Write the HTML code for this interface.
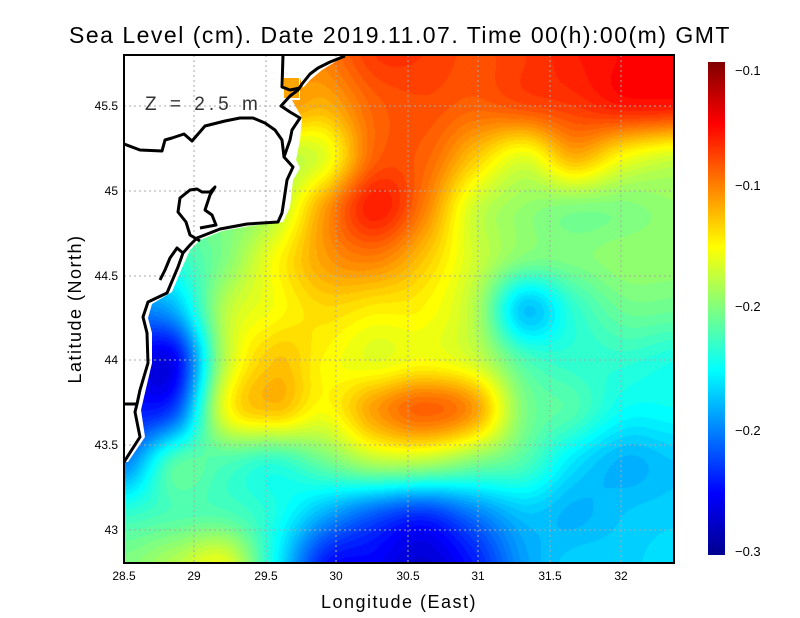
<!DOCTYPE html>
<html><head><meta charset="utf-8"><style>
body{margin:0;background:#fff;width:800px;height:618px;position:relative;overflow:hidden;font-family:"Liberation Sans",sans-serif}
canvas{position:absolute;left:124px;top:55px}
svg{position:absolute;left:0;top:0}
</style></head><body>
<canvas id="c" width="551" height="508"></canvas>
<svg width="800" height="618" viewBox="0 0 800 618">
<defs><linearGradient id="jet" x1="0" y1="1" x2="0" y2="0">
<stop offset="0" stop-color="#00008f"/><stop offset="0.125" stop-color="#0000ff"/><stop offset="0.375" stop-color="#00ffff"/><stop offset="0.625" stop-color="#ffff00"/><stop offset="0.875" stop-color="#ff0000"/><stop offset="1" stop-color="#800000"/></linearGradient></defs>
<path d="M124,55 L283,55 L283,78 L300,78 L300,100 L292,100 L302,118 L300,140 L296,160 L300,168 L293,180 L290,207 L283,222 L250,226 L222,231 L200,240 L190,250 L182,268 L172,292 L152,304 L148,318 L152,333 L152,363 L144,397 L141,410 L145,437 L128,462 L124,462 Z" fill="#fff"/>
<path d="M283,55 L345,55 L335,62 L322,70 L310,80 L303,88 L300,78 L283,78 Z" fill="#fff"/>
<rect x="284" y="78" width="15" height="20" fill="#ffa400"/>
<g stroke="#aaa" stroke-width="1" stroke-dasharray="2,3" fill="none">
<path d="M194,55V563M266,55V563M336,55V563M408,55V563M478,55V563M550,55V563M621,55V563"/>
<path d="M124,106H674M124,191H674M124,276H674M124,360H674M124,445H674M124,530H674"/>
</g>
<g stroke="#000" stroke-width="3" fill="none" stroke-linejoin="round">
<path d="M345,56 L330,62 L318,68 L310,74 L302,84 L298,90 L290,96 L281,106 L290,112 L300,118 L292,130 L290,140 L284,157 L293,167 L287,180 L284,200 L282,213 L278,222 L247,224 L220,229 L197,238 L190,245 L183,253 L178,267 L167,293 L148,302 L143,317 L147,333 L148,363 L140,390 L137,404 L135,412 L140,437 L124,462"/>
<path d="M283,55 L282,87 L290,90 L300,88"/>
<path d="M124,144 L140,150 L162,151 L165,140 L172,138 L184,134 L192,141 L205,126 L225,121 L240,118 L253,118 L265,123 L275,130 L282,140 L284,157"/>
<path d="M200,241 L190,235 L186,222 L178,212 L180,198 L190,190 L197,189 L202,192 L210,192 L215,187 L210,195 L205,210 L212,215 L216,225 L200,228"/>
<path d="M183,253 L177,248 L170,258 L165,270 L160,280"/>
<path d="M124,404 L137,404"/>
</g>
<rect x="124" y="55" width="550" height="508" fill="none" stroke="#000" stroke-width="2"/>
<text x="145" y="110" font-size="19" fill="#333" letter-spacing="4">Z = 2.5 m</text>
<g font-size="12" fill="#000" text-anchor="middle">
<text x="124" y="580">28.5</text><text x="194" y="580">29</text><text x="266" y="580">29.5</text><text x="336" y="580">30</text><text x="408" y="580">30.5</text><text x="478" y="580">31</text><text x="550" y="580">31.5</text><text x="621" y="580">32</text>
</g>
<g font-size="12" fill="#000" text-anchor="end">
<text x="118" y="110">45.5</text><text x="118" y="195">45</text><text x="118" y="280">44.5</text><text x="118" y="364">44</text><text x="118" y="449">43.5</text><text x="118" y="534">43</text>
</g>
<text x="399" y="608" font-size="18" text-anchor="middle" letter-spacing="1.5">Longitude (East)</text>
<text transform="translate(81,309) rotate(-90)" font-size="18" text-anchor="middle" letter-spacing="1.5">Latitude (North)</text>
<text x="400" y="43" font-size="23" text-anchor="middle" letter-spacing="1.5">Sea Level (cm). Date 2019.11.07. Time 00(h):00(m) GMT</text>
<rect x="708" y="62" width="17" height="493" fill="url(#jet)"/>
<g font-size="13" fill="#000">
<text x="735" y="75">−0.1</text><text x="735" y="190">−0.1</text><text x="735" y="311">−0.2</text><text x="735" y="435">−0.2</text><text x="735" y="556">−0.3</text>
</g>
</svg>
<script>
var G=[
[0.6,0.6,0.6,0.7,0.75,0.82,0.82,0.8,0.82,0.85,0.87,0.88],
[0.6,0.6,0.6,0.72,0.7,0.78,0.8,0.78,0.8,0.82,0.85,0.85],
[0.5,0.5,0.5,0.55,0.6,0.78,0.78,0.68,0.6,0.7,0.62,0.58],
[0.5,0.5,0.5,0.55,0.72,0.85,0.75,0.58,0.52,0.5,0.5,0.52],
[0.4,0.42,0.5,0.62,0.72,0.75,0.68,0.58,0.5,0.5,0.52,0.52],
[0.25,0.3,0.55,0.62,0.66,0.64,0.63,0.55,0.32,0.42,0.48,0.48],
[0.15,0.12,0.55,0.68,0.63,0.6,0.62,0.58,0.45,0.42,0.42,0.4],
[0.15,0.2,0.6,0.68,0.62,0.72,0.78,0.72,0.5,0.45,0.38,0.38],
[0.25,0.45,0.45,0.42,0.48,0.55,0.55,0.5,0.45,0.35,0.3,0.32],
[0.42,0.45,0.45,0.4,0.3,0.22,0.18,0.25,0.32,0.3,0.32,0.33],
[0.5,0.55,0.6,0.38,0.15,0.12,0.08,0.15,0.28,0.33,0.33,0.35]];
var R=G.length,C=G[0].length;
function g(j,i){j=Math.max(0,Math.min(R-1,j));i=Math.max(0,Math.min(C-1,i));return G[j][i];}
function cr(p0,p1,p2,p3,t){return 0.5*(2*p1+(-p0+p2)*t+(2*p0-5*p1+4*p2-p3)*t*t+(-p0+3*p1-3*p2+p3)*t*t*t);}
function val(x,y){var fx=x/50,fy=y/50.8;var i=Math.floor(fx),j=Math.floor(fy),tx=fx-i,ty=fy-j;var r=[];
for(var k=-1;k<3;k++){r.push(cr(g(j+k,i-1),g(j+k,i),g(j+k,i+1),g(j+k,i+2),tx));}
return cr(r[0],r[1],r[2],r[3],ty);}
function cl(v){return Math.max(0,Math.min(1,v));}
var c=document.getElementById('c'),ctx=c.getContext('2d'),W=c.width,H=c.height,im=ctx.createImageData(W,H);
for(var y=0;y<H;y++)for(var x=0;x<W;x++){var v=val(x,y);v=Math.round(v*64)/64;
var o=(y*W+x)*4;im.data[o]=255*cl(1.5-Math.abs(4*v-3));im.data[o+1]=255*cl(1.5-Math.abs(4*v-2));im.data[o+2]=255*cl(1.5-Math.abs(4*v-1));im.data[o+3]=255;}
ctx.putImageData(im,0,0);
</script>
</body></html>
